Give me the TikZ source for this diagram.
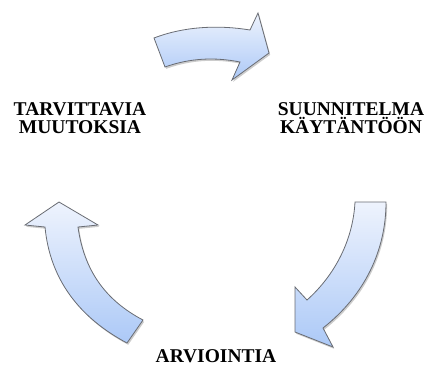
\documentclass[tikz,border=0pt]{standalone}
\usepackage{fontspec}
\newfontfamily\labelfont{Liberation Serif}
\usetikzlibrary{shadows}
\begin{document}
\begin{tikzpicture}[x=1pt,y=-1pt,
  cyclearrow/.style={draw={rgb,255:red,105;green,108;blue,115},line width=0.8pt,line join=miter,
    top color={rgb,255:red,238;green,243;blue,253},
    bottom color={rgb,255:red,172;green,201;blue,247},
    drop shadow={shadow xshift=1.2pt,shadow yshift=-1.8pt,opacity=0.2,fill=black}},
  phase/.style={font=\labelfont\bfseries\fontsize{19.5}{17.5}\selectfont,align=center,inner sep=0pt,anchor=base}]
\useasboundingbox (0,0) rectangle (427,365);
% top arrow: towards the plan
\path[cyclearrow] (154,38) .. controls (185,26) and (220,25) .. (250,30) -- (258,13) -- (269,53)
  -- (232,80) -- (240,62) .. controls (215,57) and (190,58) .. (165,67) -- cycle;
% right arrow: down to the evaluation
\path[cyclearrow] (355,202) -- (386,202) .. controls (386,250) and (365,295) .. (323,328)
  -- (333,347) -- (295,332) -- (295,287) -- (307,300) .. controls (335,275) and (353,240) .. (355,202) -- cycle;
% left arrow: up to the changes
\path[cyclearrow] (59,202) -- (98,225) -- (78,227) .. controls (84,270) and (105,300) .. (143,320)
  -- (127,343) .. controls (80,318) and (50,280) .. (45,227) -- (25,225) -- cycle;
% phase labels (base anchor sits on the last line)
\node[phase] (muutokset) at (80,133) {TARVITTAVIA\\MUUTOKSIA};
\node[phase] (suunnitelma) at (351,133) {SUUNNITELMA\\KÄYTÄNTÖÖN};
\node[phase] (arviointi) at (216,362) {ARVIOINTIA};
\end{tikzpicture}
\end{document}
